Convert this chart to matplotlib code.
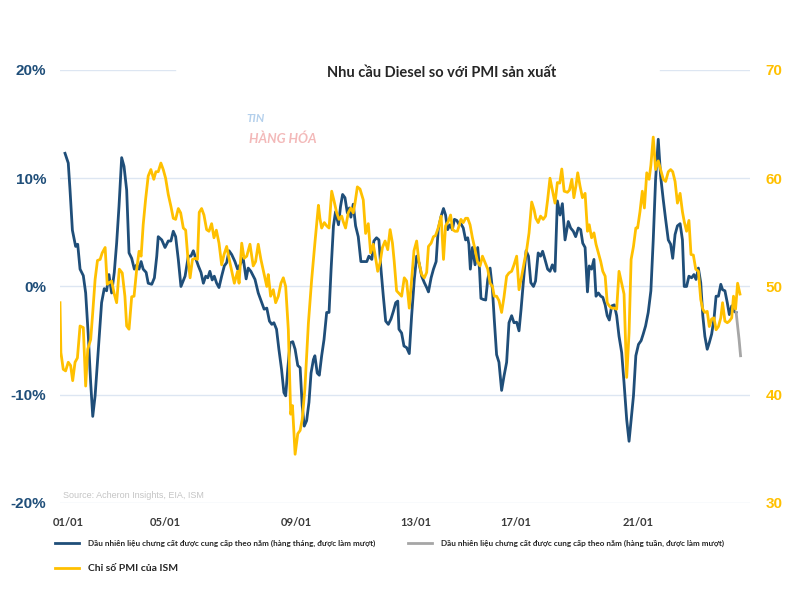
import matplotlib
matplotlib.use("Agg")
import matplotlib.pyplot as plt

plt.rcParams["font.family"] = ["Lato", "DejaVu Sans"]

# Distillate fuel oil supplied, y/y % (monthly, smoothed) -- dates as decimal years
diesel_dates = [
    2001.17, 2001.28, 2001.34, 2001.42, 2001.53, 2001.60, 2001.68, 2001.79, 2001.87, 2001.96,
    2002.04, 2002.11, 2002.19, 2002.30, 2002.41, 2002.50, 2002.58, 2002.66, 2002.75, 2002.84, 2002.92,
    2003.00, 2003.09, 2003.17, 2003.26, 2003.34, 2003.43, 2003.52, 2003.60, 2003.68, 2003.75, 2003.82, 2003.92, 2003.99,
    2004.11, 2004.20, 2004.28, 2004.33, 2004.45, 2004.56, 2004.67, 2004.76, 2004.84, 2004.92,
    2005.01, 2005.10, 2005.24, 2005.35, 2005.44, 2005.52, 2005.60, 2005.69, 2005.78, 2005.86, 2005.94,
    2006.01, 2006.08, 2006.16, 2006.23, 2006.31, 2006.39, 2006.48, 2006.57, 2006.65, 2006.73,
    2006.82, 2006.93, 2007.02, 2007.10, 2007.21, 2007.31, 2007.38, 2007.47, 2007.61, 2007.72, 2007.84, 2007.92,
    2008.01, 2008.10, 2008.18, 2008.25, 2008.34, 2008.42, 2008.51, 2008.59, 2008.65, 2008.72, 2008.80, 2008.89, 2008.97,
    2009.06, 2009.14, 2009.21, 2009.28, 2009.36, 2009.44, 2009.51, 2009.59, 2009.64, 2009.72, 2009.79, 2009.87, 2009.95,
    2010.04, 2010.12, 2010.19, 2010.27, 2010.34, 2010.44, 2010.51, 2010.58, 2010.66, 2010.74, 2010.81, 2010.86, 2010.94,
    2011.02, 2011.11, 2011.20, 2011.28, 2011.40, 2011.47, 2011.57, 2011.64, 2011.73, 2011.81, 2011.88, 2011.96,
    2012.04, 2012.13, 2012.22, 2012.30, 2012.38, 2012.45, 2012.49,
    2012.58, 2012.66, 2012.75, 2012.84, 2012.92, 2013.01, 2013.09, 2013.17, 2013.26, 2013.35, 2013.43, 2013.49,
    2013.58, 2013.66, 2013.75, 2013.82, 2013.92,
    2014.00, 2014.07, 2014.14, 2014.22, 2014.30, 2014.37, 2014.45, 2014.53, 2014.59, 2014.67, 2014.75, 2014.82,
    2014.86, 2014.91, 2014.98,
    2015.07, 2015.16, 2015.22, 2015.27, 2015.35, 2015.43, 2015.50, 2015.58, 2015.66, 2015.72, 2015.80, 2015.88, 2015.97,
    2016.05, 2016.14, 2016.22, 2016.31, 2016.39, 2016.48, 2016.56, 2016.63, 2016.71, 2016.80, 2016.88, 2016.96,
    2017.05, 2017.12, 2017.21, 2017.29, 2017.36, 2017.44, 2017.53, 2017.61, 2017.69, 2017.78, 2017.86, 2017.95,
    2018.03, 2018.12, 2018.23, 2018.31, 2018.40, 2018.48, 2018.57, 2018.65, 2018.72, 2018.80, 2018.88, 2018.94,
    2019.02, 2019.10, 2019.17, 2019.25, 2019.33, 2019.40, 2019.48, 2019.55, 2019.62, 2019.70, 2019.79, 2019.87, 2019.95,
    2020.04, 2020.12, 2020.21, 2020.29, 2020.36, 2020.44, 2020.52, 2020.61, 2020.70, 2020.77, 2020.85, 2020.94,
    2021.03, 2021.11, 2021.19, 2021.28, 2021.36, 2021.45, 2021.53, 2021.62, 2021.70, 2021.77, 2021.85, 2021.93,
    2022.02, 2022.10, 2022.16, 2022.24, 2022.32, 2022.41, 2022.49, 2022.56, 2022.64, 2022.72, 2022.79, 2022.86, 2022.94,
    2023.01, 2023.09, 2023.17, 2023.24, 2023.32, 2023.40, 2023.46, 2023.54, 2023.62, 2023.69, 2023.77, 2023.85, 2023.92,
]
diesel_yoy = [
    12.3, 11.4, 8.9, 5.2, 3.7, 3.9, 1.6, 1.0, -0.6, -4.6,
    -8.9, -12.0, -10.1, -5.8, -1.5, -0.2, -0.4, 1.1, -0.6, 1.3, 4.0,
    7.4, 11.9, 11.1, 8.9, 3.1, 2.6, 1.6, 2.0, 1.6, 2.3, 1.6, 1.3, 0.3,
    0.2, 0.8, 2.8, 4.6, 4.3, 3.6, 4.2, 4.2, 5.1, 4.6,
    2.5, 0.0, 0.95, 2.8, 2.8, 3.3, 2.6, 1.9, 1.3, 0.3, 0.95,
    0.8, 1.4, 0.6, 0.95, 0.3, -0.1, 0.95, 1.9, 2.2, 3.3,
    2.95, 2.3, 1.6, 2.0, 2.6, 0.7, 1.7, 1.4, 0.65, -0.6, -1.5, -2.1,
    -2.0, -3.2, -3.5, -3.35, -3.95, -5.8, -7.65, -9.8, -10.1, -7.65, -5.2, -5.1, -5.8,
    -7.3, -7.5, -11.0, -12.9, -12.4, -10.7, -8.0, -6.75, -6.4, -8.0, -8.2, -6.4, -4.9,
    -2.4, -2.4, 1.6, 5.6, 6.9, 5.7, 7.4, 8.5, 8.2, 6.8, 7.25, 6.4, 7.6,
    5.6, 4.6, 2.3, 2.3, 2.3, 2.8, 2.5, 4.2, 4.5, 4.3, 1.6, -0.9,
    -3.2, -3.5, -3.0, -2.3, -1.5, -1.35, -3.95,
    -4.3, -5.5, -5.65, -6.2, -2.7, 0.65, 2.8, 2.2, 0.95, 0.35, -0.1, -0.5,
    0.8, 1.6, 2.3, 5.25, 6.5,
    7.2, 6.6, 5.25, 5.7, 5.25, 6.2, 6.1, 5.7, 5.8, 5.4, 4.3, 4.5,
    3.9, 1.6, 3.6,
    2.0, 3.6, 1.6, -1.1, -1.2, -1.25, 0.65, 1.7, -0.3, -3.0, -6.3, -7.0, -9.6,
    -8.3, -7.0, -3.35, -2.7, -3.35, -3.3, -4.1, -2.1, 0.5, 3.3, 2.8, 0.35,
    0.0, 0.5, 3.1, 2.8, 3.25, 2.5, 1.6, 1.4, 2.0, 1.4, 7.9, 6.6,
    7.65, 4.3, 6.0, 5.4, 5.1, 4.6, 5.4, 5.25, 4.0, 3.6, -0.5, 1.9,
    1.6, 2.5, -0.9, -0.6, -0.9, -1.0, -1.7, -2.7, -3.1, -1.8, -1.7, -2.7, -4.6,
    -6.1, -8.9, -12.3, -14.3, -12.3, -10.1, -6.4, -5.35, -5.0, -4.4, -3.65, -2.4,
    -0.4, 4.3, 9.9, 13.6, 10.2, 8.0, 6.2, 4.3, 3.9, 2.6, 4.8, 5.6,
    5.8, 4.3, 0.0, 0.0, 0.95, 0.8, 1.1, 0.65, 1.7, 0.35, -2.7, -4.6, -5.8,
    -5.2, -4.4, -3.0, -0.9, -0.9, 0.2, -0.3, -0.4, -1.5, -2.6, -1.8, -2.3, -2.4,
]

# weekly, smoothed (latest stretch only)
weekly_dates = [2023.92, 2023.97, 2024.02, 2024.07]
weekly_yoy = [-2.4, -3.65, -4.9, -6.4]

# ISM manufacturing PMI
pmi_dates = [
    2001.00, 2001.03, 2001.11, 2001.19, 2001.28, 2001.36, 2001.43, 2001.51, 2001.59, 2001.68, 2001.79, 2001.87, 2001.94,
    2002.04, 2002.11, 2002.19, 2002.27, 2002.36, 2002.43, 2002.53, 2002.60, 2002.67, 2002.75, 2002.84, 2002.92,
    2003.01, 2003.11, 2003.20, 2003.26, 2003.34, 2003.43, 2003.51, 2003.60, 2003.68, 2003.75, 2003.82, 2003.90, 2003.99,
    2004.08, 2004.18, 2004.25, 2004.33, 2004.42, 2004.50, 2004.58, 2004.67, 2004.76, 2004.84, 2004.92,
    2005.01, 2005.09, 2005.18, 2005.26, 2005.33, 2005.41, 2005.49, 2005.58, 2005.66, 2005.72, 2005.80, 2005.88, 2005.97,
    2006.05, 2006.14, 2006.22, 2006.30, 2006.39, 2006.48, 2006.56, 2006.65,
    2006.76, 2006.91, 2007.02, 2007.07, 2007.16, 2007.24, 2007.33, 2007.44, 2007.55, 2007.63, 2007.72, 2007.81, 2007.93,
    2008.01, 2008.06, 2008.14, 2008.23, 2008.31, 2008.40, 2008.49, 2008.57, 2008.65, 2008.74, 2008.82, 2008.88, 2008.97,
    2009.06, 2009.14, 2009.21, 2009.30, 2009.42, 2009.53, 2009.64, 2009.76, 2009.81, 2009.87, 2009.96,
    2010.04, 2010.12, 2010.21, 2010.29, 2010.38, 2010.46, 2010.55, 2010.60, 2010.68, 2010.77, 2010.86, 2010.94,
    2011.00, 2011.08, 2011.17, 2011.28, 2011.36, 2011.45, 2011.53, 2011.62, 2011.70, 2011.77, 2011.85, 2011.93,
    2012.02, 2012.11, 2012.19, 2012.27, 2012.33, 2012.41,
    2012.58, 2012.67, 2012.75, 2012.84, 2012.92, 2013.00, 2013.09, 2013.17, 2013.26, 2013.35, 2013.43, 2013.49,
    2013.58, 2013.66, 2013.73, 2013.82, 2013.92,
    2014.00, 2014.07, 2014.16, 2014.24, 2014.31, 2014.39, 2014.47, 2014.54, 2014.59, 2014.67, 2014.75, 2014.82,
    2014.90, 2014.98,
    2015.07, 2015.15, 2015.24, 2015.32, 2015.41, 2015.50, 2015.58, 2015.66, 2015.72, 2015.80, 2015.88, 2015.97,
    2016.05, 2016.14, 2016.22, 2016.31, 2016.39, 2016.48, 2016.56, 2016.65, 2016.74, 2016.82, 2016.90, 2016.99,
    2017.07, 2017.13, 2017.21, 2017.29, 2017.38, 2017.46, 2017.53, 2017.61, 2017.69, 2017.78, 2017.86, 2017.94,
    2018.01, 2018.09, 2018.20, 2018.27, 2018.35, 2018.42, 2018.49, 2018.55, 2018.63, 2018.71, 2018.80, 2018.88, 2018.94,
    2019.02, 2019.10, 2019.17, 2019.25, 2019.33, 2019.40, 2019.48, 2019.55, 2019.62, 2019.70, 2019.79, 2019.87, 2019.95,
    2020.04, 2020.12, 2020.21, 2020.29, 2020.36, 2020.44, 2020.52, 2020.58, 2020.66, 2020.74, 2020.81, 2020.89, 2020.97,
    2021.03, 2021.11, 2021.19, 2021.28, 2021.36, 2021.45, 2021.53, 2021.62, 2021.70, 2021.77, 2021.85, 2021.93,
    2022.02, 2022.10, 2022.16, 2022.24, 2022.32, 2022.39, 2022.47, 2022.55, 2022.64, 2022.72, 2022.79, 2022.86, 2022.94,
    2023.01, 2023.09, 2023.17, 2023.24, 2023.32, 2023.40, 2023.46, 2023.54, 2023.62, 2023.69, 2023.77, 2023.83, 2023.90,
    2023.97, 2024.05,
]
pmi = [
    48.5, 43.9, 42.35, 42.2, 43.0, 42.7, 41.3, 43.0, 43.4, 46.35, 46.2, 40.8, 44.2,
    45.1, 47.6, 50.65, 52.4, 52.5, 53.1, 53.6, 50.2, 50.35, 50.5, 49.3, 48.5,
    51.6, 51.25, 49.1, 46.35, 46.05, 49.05, 49.1, 51.6, 53.25, 52.8, 55.7, 58.0, 60.2,
    60.8, 59.9, 60.6, 60.6, 61.4, 60.8, 60.0, 58.5, 57.4, 56.3, 56.2,
    57.2, 56.8, 55.4, 55.2, 52.8, 50.8, 52.5, 52.6, 52.5, 56.85, 57.2, 56.6, 55.25,
    55.1, 55.8, 54.5, 55.2, 54.0, 52.0, 52.95, 53.7,
    52.2, 50.3, 51.4, 50.3, 54.0, 52.6, 52.8, 53.9, 51.9, 52.3, 53.9, 52.5, 51.0,
    50.0, 51.1, 49.1, 49.7, 48.5, 49.1, 50.3, 50.8, 50.0, 46.0, 38.2, 39.0, 34.5,
    36.4, 36.7, 37.7, 40.5, 46.6, 50.6, 54.0, 57.5, 56.3, 55.4, 55.9,
    55.6, 55.4, 58.8, 57.9, 56.8, 56.2, 56.5, 56.0, 55.4, 56.8, 57.25, 56.8,
    57.7, 59.2, 59.0, 58.0, 54.9, 55.8, 53.1, 53.9, 52.6, 51.4, 52.2, 53.6,
    54.2, 53.4, 55.25, 54.0, 52.3, 49.6,
    49.1, 50.8, 50.5, 48.0, 50.65, 53.3, 54.2, 52.2, 51.1, 50.8, 51.3, 53.7,
    54.0, 54.6, 54.7, 55.4, 56.5,
    52.5, 55.6, 56.0, 56.6, 55.25, 55.1, 55.1, 55.7, 56.2, 55.9, 56.3, 56.3,
    55.7, 54.5,
    53.4, 52.3, 51.9, 52.8, 52.2, 51.6, 50.3, 50.0, 49.1, 49.1, 48.7, 47.6,
    49.0, 50.95, 51.25, 51.4, 52.0, 52.8, 49.7, 50.95, 52.3, 53.4, 54.95, 57.8,
    57.1, 56.3, 55.9, 56.5, 56.2, 56.5, 58.0, 60.0, 58.9, 57.7, 59.6, 59.55,
    60.85, 58.8, 58.7, 58.9, 59.9, 58.2, 59.3, 60.5, 59.25, 58.2, 58.6, 55.1, 55.7,
    54.5, 54.95, 53.9, 53.1, 52.3, 51.4, 50.95, 48.5, 48.2, 48.0, 48.0, 47.9, 51.4,
    50.3, 49.3, 41.6, 45.7, 52.5, 53.7, 55.4, 55.4, 56.9, 58.8, 57.25, 60.5, 59.9,
    61.2, 63.8, 60.8, 61.6, 60.8, 59.9, 59.7, 60.6, 60.8, 60.6, 59.7, 57.7,
    58.6, 56.9, 56.0, 55.1, 56.1, 52.95, 52.9, 51.6, 51.4, 48.8, 47.9, 47.6, 47.7,
    46.3, 47.0, 47.1, 46.0, 46.3, 47.1, 48.5, 46.8, 46.65, 46.8, 47.1, 49.1, 47.9,
    50.3, 49.3,
]

left_ticks = [-20, -10, 0, 10, 20]
left_labels = ["-20%", "-10%", "0%", "10%", "20%"]
right_ticks = [30, 40, 50, 60, 70]
x_tick_pos = [2001.27, 2004.56, 2009.0, 2013.07, 2016.46, 2020.59]
x_tick_labels = ["01/01", "05/01", "09/01", "13/01", "17/01", "21/01"]

BLUE = "#1f4e79"
GOLD = "#ffc000"
GREY = "#a6a6a6"
GRID = "#dde6f2"

fig = plt.figure(figsize=(8, 6), dpi=100)
ax = fig.add_axes([0.075, 0.1617, 0.8625, 0.7217])
ax2 = ax.twinx()

ax.set_xlim(2001.0, 2024.39)
ax.set_ylim(-20, 20)
ax2.set_ylim(30, 70)

for t in left_ticks:
    if t == 20:
        # title box hides the middle of the top gridline
        ax.axhline(t, xmax=0.167, color=GRID, lw=1, zorder=0)
        ax.axhline(t, xmin=0.87, color=GRID, lw=1, zorder=0)
    else:
        ax.axhline(t, color=GRID, lw=1, zorder=0)

line_m, = ax.plot(diesel_dates, diesel_yoy, color=BLUE, lw=2.0, solid_joinstyle="round")
line_w, = ax.plot(weekly_dates, weekly_yoy, color=GREY, lw=2.0)
line_p, = ax2.plot(pmi_dates, pmi, color=GOLD, lw=2.0, solid_joinstyle="round")

for a in (ax, ax2):
    for s in a.spines.values():
        s.set_visible(False)

ax.set_yticks(left_ticks)
ax.set_yticklabels(left_labels, fontfamily="Liberation Sans", fontweight="bold",
                   fontsize=11, color=BLUE)
ax.tick_params(axis="y", length=0, pad=10)

ax2.set_yticks(right_ticks)
ax2.set_yticklabels([str(v) for v in right_ticks], fontfamily="Liberation Sans",
                    fontweight="bold", fontsize=11, color=GOLD)
ax2.tick_params(axis="y", length=0, pad=11)

ax.set_xticks(x_tick_pos)
ax.set_xticklabels(x_tick_labels, fontweight="bold", fontsize=8, color="#3a3a3a")
ax.tick_params(axis="x", length=0, pad=10)

fig.text(0.552, 1 - 73 / 600, "Nhu cầu Diesel so với PMI sản xuất", ha="center",
         va="center", fontsize=10.5, fontweight="bold", color="#262626")

# watermark logo of the republisher
fig.text(0.308, 1 - 119 / 600, "TIN", ha="left", va="center", fontsize=8.5,
         fontweight="bold", style="italic", color="#b4d0ec")
fig.text(0.311, 1 - 139 / 600, "HÀNG HÓA", ha="left", va="center", fontsize=9.5,
         fontweight="bold", style="italic", color="#f3b9b9")

ax.text(0.005, 0.017, "Source: Acheron Insights, EIA, ISM", transform=ax.transAxes,
        ha="left", va="center", fontsize=6.5, color="#c4c4c4",
        fontfamily="Liberation Sans")

leg = fig.legend(
    handles=[line_m, line_p, line_w],
    labels=[
        "Dầu nhiên liệu chưng cất được cung cấp theo năm (hàng tháng, được làm mượt)",
        "Chỉ số PMI của ISM",
        "Dầu nhiên liệu chưng cất được cung cấp theo năm (hàng tuần, được làm mượt)",
    ],
    ncol=2, loc="upper left", bbox_to_anchor=(55 / 800, 1 - 540 / 600),
    frameon=False, handlelength=2.9, handletextpad=1.1,
    columnspacing=4.0, labelspacing=2.0, borderpad=0, borderaxespad=0,
    prop={"weight": "bold", "size": 5.9},
)
for txt in leg.get_texts():
    txt.set_color("#262626")
leg.get_texts()[1].set_fontsize(7.5)

fig.savefig("out.png", dpi=100)
